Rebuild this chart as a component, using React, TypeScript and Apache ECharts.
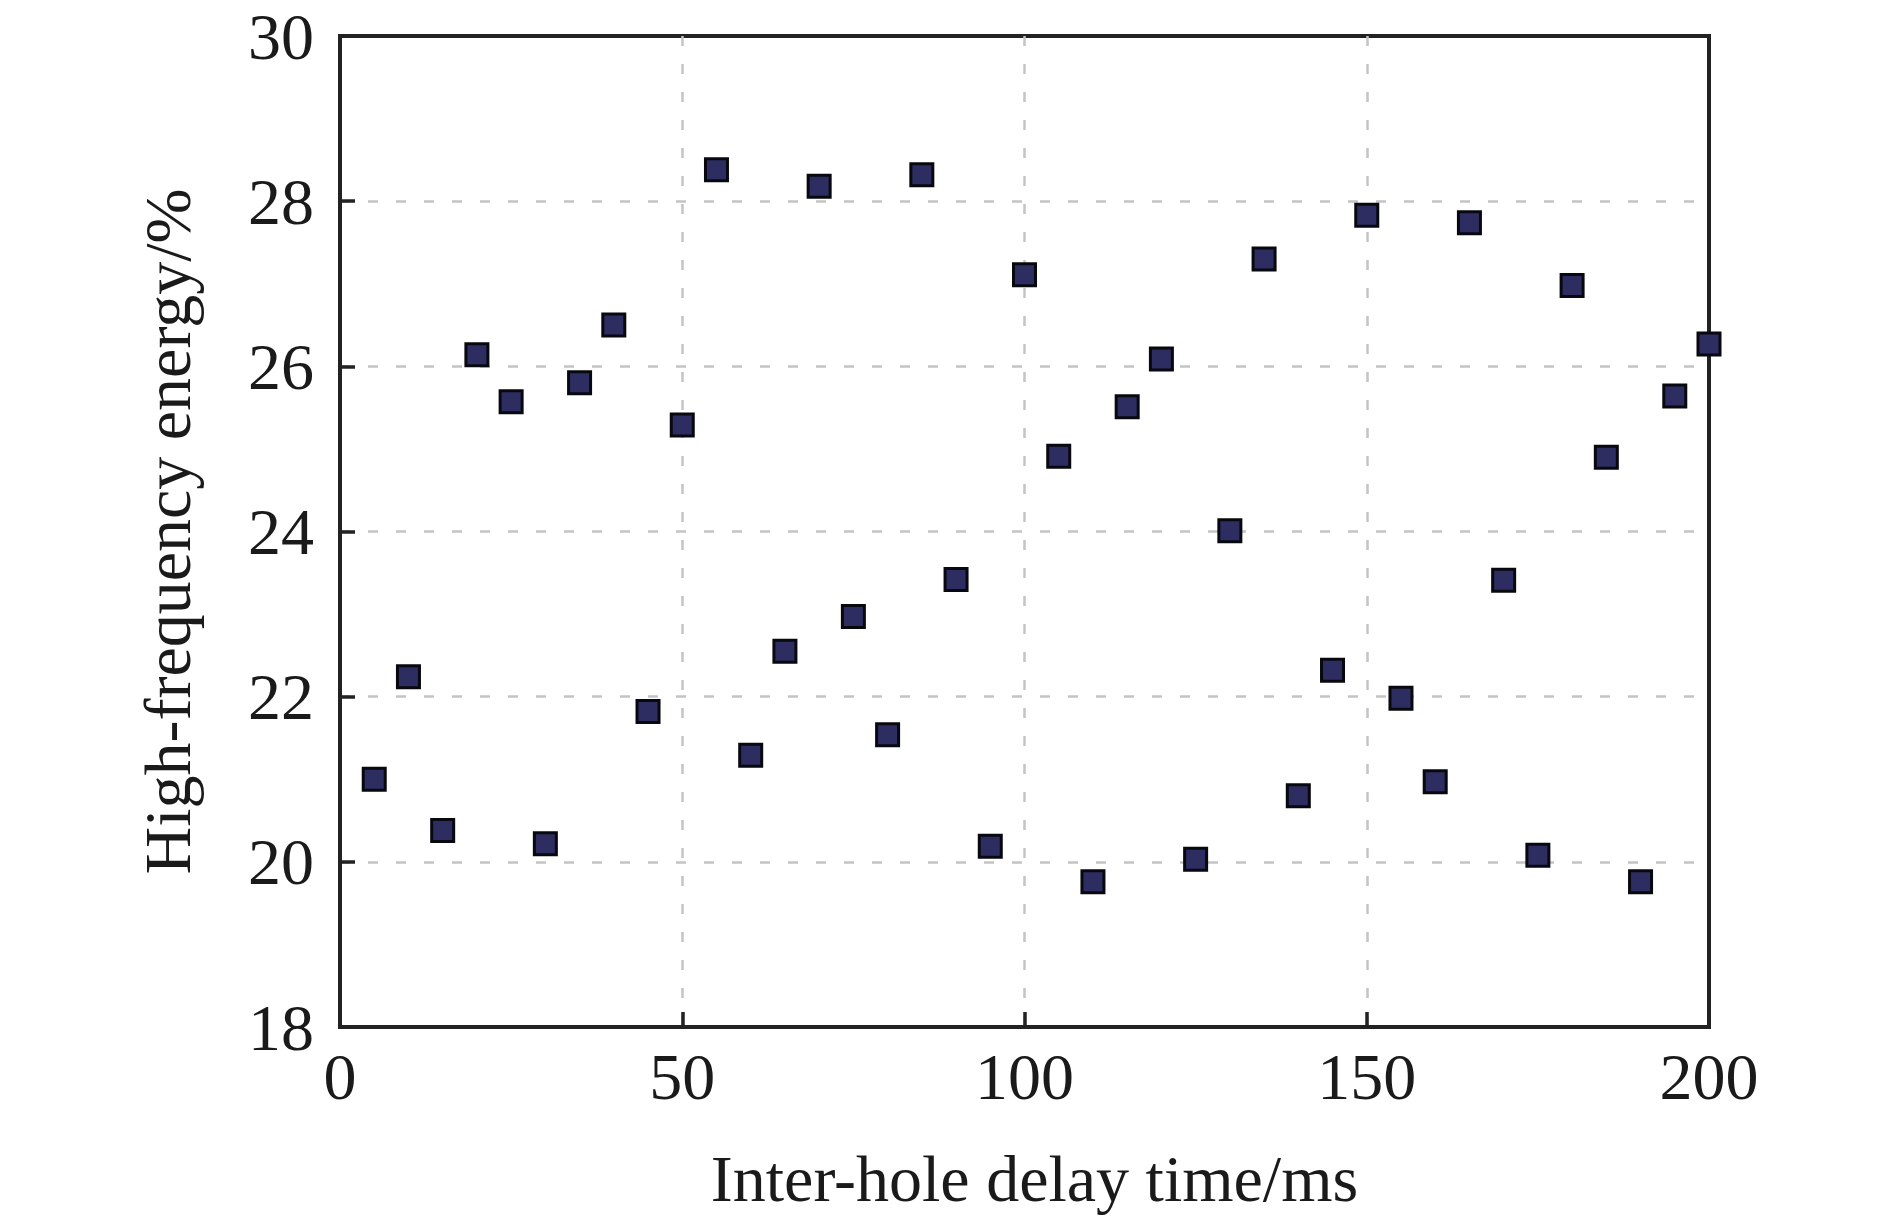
import React, { useEffect, useRef } from "react";
import * as echarts from "echarts";

const delayTimes = [5, 10, 15, 20, 25, 30, 35, 40, 45, 50, 55, 60, 65, 70, 75, 80, 85, 90, 95, 100, 105, 110, 115, 120, 125, 130, 135, 140, 145, 150, 155, 160, 165, 170, 175, 180, 185, 190, 195, 200];
const energyValues = [21.0, 22.24, 20.38, 26.14, 25.57, 20.22, 25.8, 26.5, 21.82, 25.29, 28.38, 21.29, 22.55, 28.18, 22.97, 21.54, 28.32, 23.42, 20.19, 27.11, 24.91, 19.76, 25.51, 26.09, 20.03, 24.01, 27.3, 20.8, 22.32, 27.83, 21.98, 20.97, 27.74, 23.41, 20.08, 26.98, 24.9, 19.76, 25.64, 26.27];

const xTitle = "Inter-hole delay time/ms";
const yTitle = "High-frequency energy/%";

export default function App() {
  const ref = useRef<HTMLDivElement>(null);
  useEffect(() => {
    if (!ref.current) return;
    const chart = echarts.init(ref.current, null, { renderer: "svg" });
    const font = "Liberation Serif";
    const textColor = "#1a1a1a";
    const split = { show: true, showMinLine: false, showMaxLine: false, lineStyle: { color: "#c4c4c4", width: 2.5, type: [10, 18] as any } };
    chart.setOption({
      animation: false,
      backgroundColor: "#ffffff",
      grid: { left: 340, top: 36, width: 1369, height: 991, show: true, borderColor: "#222", borderWidth: 4, backgroundColor: "transparent" },
      xAxis: {
        type: "value",
        min: 0,
        max: 200,
        interval: 50,
        name: xTitle,
        nameLocation: "middle",
        nameGap: 118,
        nameTextStyle: { fontFamily: font, fontSize: 66, color: textColor, padding: [0, 0, 0, 20] },
        axisLine: { show: true, lineStyle: { color: "#222", width: 4 } },
        axisTick: { show: true, inside: true, length: 15, lineStyle: { color: "#222", width: 3.5 } },
        axisLabel: { fontFamily: font, fontSize: 66, color: textColor, margin: 16 },
        splitLine: split,
      },
      yAxis: {
        type: "value",
        min: 18,
        max: 30,
        interval: 2,
        name: yTitle,
        nameLocation: "middle",
        nameGap: 140,
        nameTextStyle: { fontFamily: font, fontSize: 66, color: textColor },
        axisLine: { show: true, lineStyle: { color: "#222", width: 4 } },
        axisTick: { show: true, inside: true, length: 15, lineStyle: { color: "#222", width: 3.5 } },
        axisLabel: { fontFamily: font, fontSize: 66, color: textColor, margin: 26 },
        splitLine: split,
      },
      series: [
        {
          type: "scatter",
          symbol: "rect",
          symbolSize: 22,
          data: delayTimes.map((x, i) => [x, energyValues[i]]),
          itemStyle: { color: "#2d2d62", borderColor: "#08080f", borderWidth: 3, opacity: 1 },
          clip: false,
          z: 5,
        },
      ],
    });
    return () => chart.dispose();
  }, []);
  return <div ref={ref} style={{ position: "absolute", left: 0, top: 0, width: 1890, height: 1221 }} />;
}
